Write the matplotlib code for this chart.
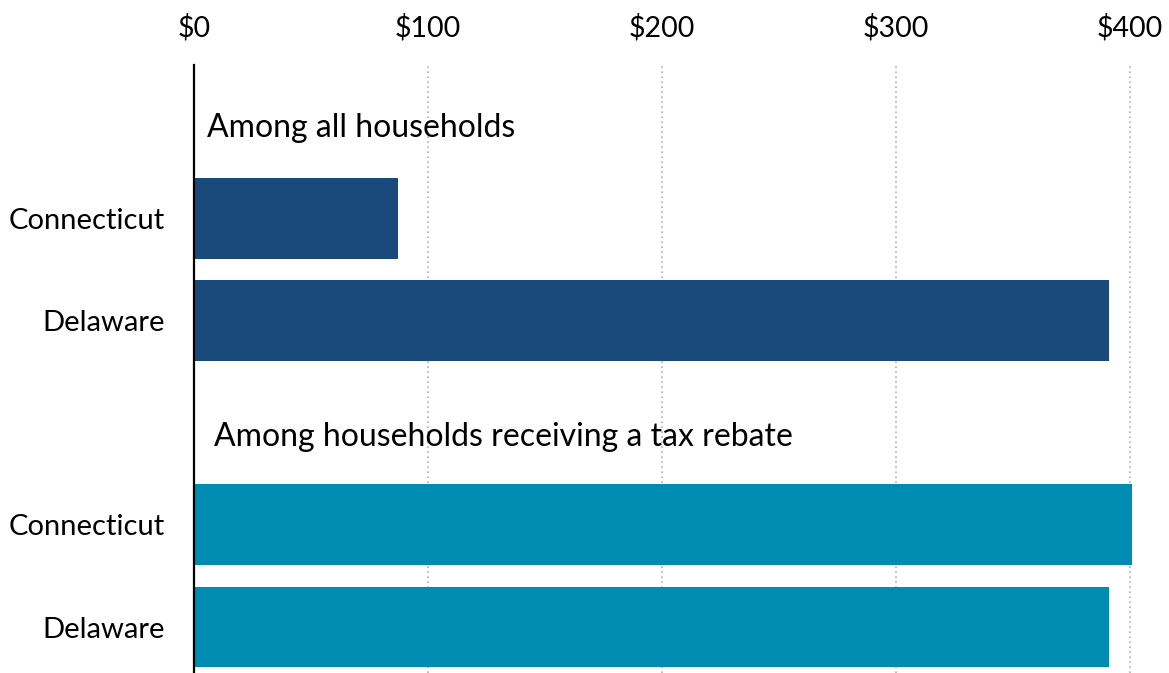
import matplotlib
matplotlib.use("Agg")
import matplotlib.pyplot as plt

# Average rebate amounts by state
states = ["Connecticut", "Delaware", "Connecticut", "Delaware"]
all_households = [87, 391]
rebate_households = [401, 391]
group_titles = ["Among all households", "Among households receiving a tax rebate"]
x_ticks = [0, 100, 200, 300, 400]
x_tick_labels = ["$0", "$100", "$200", "$300", "$400"]

dark_blue = "#1A4A7B"
teal = "#008CB2"

plt.rcParams["font.family"] = ["Lato", "DejaVu Sans"]

fig = plt.figure(figsize=(11.69, 6.73), dpi=100)
ax = fig.add_axes([0.166, 0.0, 0.8107, 0.9034])

pos_all = [0, 1]
pos_rebate = [3, 4]
bar_h = 0.79
ax.barh(pos_all, all_households, height=bar_h, color=dark_blue, zorder=3)
ax.barh(pos_rebate, rebate_households, height=bar_h, color=teal, zorder=3)

ax.set_ylim(4.45, -1.5)
ax.set_xlim(0, 405)

ax.set_yticks(pos_all + pos_rebate)
ax.set_yticklabels(states, fontsize=21)
ax.tick_params(axis="y", length=0, pad=21)

ax.set_xticks(x_ticks)
ax.set_xticklabels(x_tick_labels, fontsize=20.5)
ax.xaxis.tick_top()
ax.tick_params(axis="x", length=0, pad=17)

ax.grid(axis="x", linestyle=(0, (1, 2)), color="#b0b0b0", linewidth=1.2, zorder=0)
for s in ["top", "right", "bottom"]:
    ax.spines[s].set_visible(False)
ax.spines["left"].set_linewidth(1.6)
ax.spines["left"].set_color("black")
ax.spines["left"].set_zorder(4)

ax.text(5.5, -0.88, group_titles[0], fontsize=23, va="center", ha="left")
ax.text(8.5, 2.14, group_titles[1], fontsize=23, va="center", ha="left")

fig.savefig("out.png", dpi=100)
